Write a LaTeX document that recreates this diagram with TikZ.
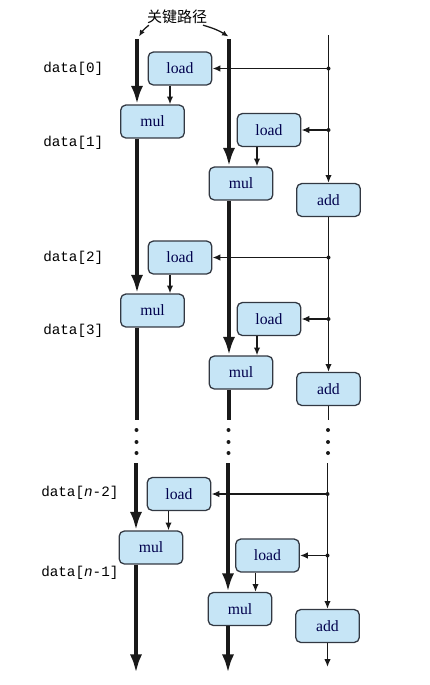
\documentclass[tikz,border=0pt]{standalone}
\usepackage{fontspec}
\setmainfont{Liberation Serif}
\setmonofont{Liberation Mono}
\newfontfamily\cjk{Noto Sans CJK SC}
\usepackage{xcolor}
\usepackage{tikz}
\usetikzlibrary{arrows,arrows.meta}
\tikzset{>=latex}
\definecolor{boxfill}{RGB}{198,229,246}
\definecolor{boxedge}{RGB}{50,56,66}
\colorlet{optext}{blue!30!black}
\colorlet{wire}{black!90}
\tikzstyle{op}=[draw=boxedge,fill=boxfill,line width=0.9pt,rounded corners=3.5pt,
  minimum width=44.5pt,minimum height=23pt,inner sep=1pt,text=optext,font=\fontsize{11}{12}\selectfont]
\tikzstyle{dlabel}=[anchor=west,inner sep=0pt,font=\ttfamily\fontsize{10}{12}\selectfont]
\tikzstyle{crit}=[line width=2.8pt,wire,-{Latex[length=13pt,width=8.5pt]}]
\tikzstyle{critline}=[line width=2.8pt,wire]
\tikzstyle{flow}=[line width=1.1pt,wire,-{Latex[length=5.5pt,width=4.5pt]}]
\tikzstyle{flowline}=[line width=1.1pt,wire]
\tikzstyle{note}=[line width=0.9pt,wire,-{Latex[length=4.5pt,width=3.8pt]}]

\begin{document}
\begin{tikzpicture}[x=0.7pt,y=-0.7pt]
  \useasboundingbox (0,0) rectangle (430,685);
  % title
  \node[font=\cjk\fontsize{10.5}{12}\selectfont,inner sep=2pt] (title) at (177,16.5) {关键路径};
  \coordinate (pL) at (139,36.5);
  \coordinate (pM) at (228.5,36.5);
  \draw[note] ([xshift=3.5pt,yshift=1pt]title.south west) to[bend right=10] (pL);
  \draw[note] ([xshift=-5pt,yshift=1pt]title.south east) to[bend left=8] (pM);
  % data labels
  \node[dlabel] (d0) at (43,69) {data[0]};
  \node[dlabel] (d1) at (43,143) {data[1]};
  \node[dlabel] (d2) at (43,258) {data[2]};
  \node[dlabel] (d3) at (43,331) {data[3]};
  \node[dlabel] (d4) at (41,493) {data[\textit{n}-2]};
  \node[dlabel] (d5) at (41,573) {data[\textit{n}-1]};
  % operations
  \node[op] (ld1) at (180,68.5) {load};
  \node[op] (ml1) at (152.5,121.5) {mul};
  \node[op] (ld2) at (269,130) {load};
  \node[op] (ml2) at (241,183.5) {mul};
  \node[op] (ad1) at (328.5,200) {add};
  \node[op] (ld3) at (180,257.5) {load};
  \node[op] (ml3) at (152.5,310.5) {mul};
  \node[op] (ld4) at (269,319) {load};
  \node[op] (ml4) at (241,372.5) {mul};
  \node[op] (ad2) at (328.5,389) {add};
  \node[op] (ld5) at (179,494) {load};
  \node[op] (ml5) at (151,547.5) {mul};
  \node[op] (ld6) at (267.5,555.5) {load};
  \node[op] (ml6) at (240,609) {mul};
  \node[op] (ad3) at (327.5,626) {add};
  % columns
  \coordinate (topL) at (137,39);
  \coordinate (topM) at (229,39);
  \coordinate (topR) at (328.5,35);
  \coordinate (gapL) at (137,420);
  \coordinate (gapM) at (229,420);
  \coordinate (gapR) at (328.5,420);
  \coordinate (resL) at (136,463);
  \coordinate (resM) at (228,463);
  \coordinate (resR) at (327.5,463);
  \coordinate (endL) at (136,673);
  \coordinate (endM) at (228,673);
  \coordinate (endR) at (327.5,667);
  \draw[crit] (topL) -- (topL |- ml1.north);
  \draw[crit] (topL |- ml1.south) -- (topL |- ml3.north);
  \draw[critline] (topL |- ml3.south) -- (gapL);
  \draw[crit] (resL) -- (resL |- ml5.north);
  \draw[crit] (resL |- ml5.south) -- (endL);
  \draw[crit] (topM) -- (topM |- ml2.north);
  \draw[crit] (topM |- ml2.south) -- (topM |- ml4.north);
  \draw[critline] (topM |- ml4.south) -- (gapM);
  \draw[crit] (resM) -- (resM |- ml6.north);
  \draw[crit] (resM |- ml6.south) -- (endM);
  \draw[flow] (topR) -- (ad1.north);
  \draw[flow] (ad1.south) -- (ad2.north);
  \draw[flowline] (ad2.south) -- (gapR);
  \draw[flow] (resR) -- (ad3.north);
  \draw[flow] (ad3.south) -- (endR);
  % branches to loads
  \foreach \n/\c in {ld1/topR,ld2/topR,ld3/topR,ld4/topR,ld5/resR,ld6/resR}{
    \fill[wire] (\c |- \n.east) circle (1.4pt);
    \draw[flow] (\c |- \n.east) -- (\n.east);
  }
  \draw[flow] (ld1.south -| 170,0) -- (ml1.north -| 170,0);
  \draw[flow] (ld2.south -| 257,0) -- (ml2.north -| 257,0);
  \draw[flow] (ld3.south -| 170,0) -- (ml3.north -| 170,0);
  \draw[flow] (ld4.south -| 257,0) -- (ml4.north -| 257,0);
  \draw[flow] (ld5.south -| 168.5,0) -- (ml5.north -| 168.5,0);
  \draw[flow] (ld6.south -| 255.5,0) -- (ml6.north -| 255.5,0);
  % gap dots
  \foreach \y in {430,442,453}{
    \fill[wire] (136.5,\y) circle (1.4pt) (228.5,\y) circle (1.4pt) (328,\y) circle (1.4pt);
  }
\end{tikzpicture}
\end{document}
